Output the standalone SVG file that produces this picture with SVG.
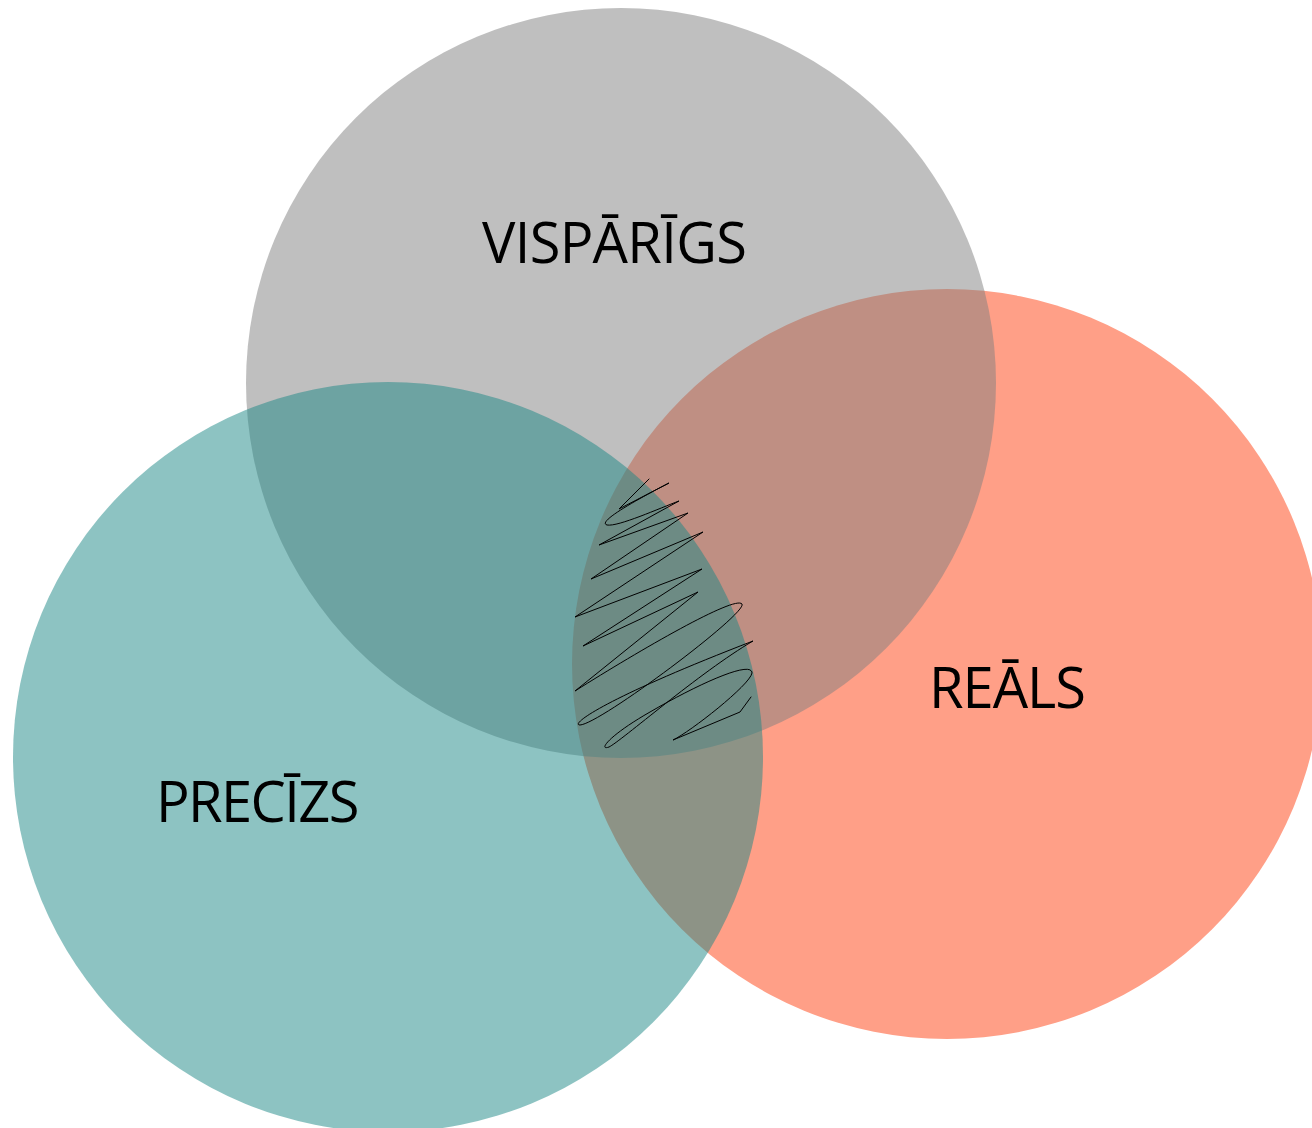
<svg xmlns="http://www.w3.org/2000/svg" width="1312" height="1128" viewBox="0 0 1312 1128">
<style>
.lbl{font-family:"Open Sans","Noto Sans","Liberation Sans",sans-serif;font-size:56px;fill:#000;}
.scribble{fill:none;stroke:#000;stroke-width:1;stroke-linejoin:round;stroke-linecap:round;}
</style>
<rect width="1312" height="1128" fill="#fff"/>
<g id="node-reals">
<circle cx="947" cy="664" r="375" fill="#ff9f87"/>
</g>
<g id="node-visparigs">
<circle cx="621" cy="383" r="375" fill="#7f7f7f" fill-opacity="0.5"/>
</g>
<g id="node-precizs">
<circle cx="388" cy="757" r="375" fill="#1b8785" fill-opacity="0.5"/>
</g>
<g id="labels">
<text class="lbl" x="482" y="263" letter-spacing="-0.7">VISPĀRĪGS</text>
<text class="lbl" x="929" y="708" letter-spacing="-1">REĀLS</text>
<text class="lbl" x="156" y="822" letter-spacing="-1.6">PRECĪZS</text>
</g>
<g id="connectors">
<path class="scribble" d="M649,479 L619,509 L669,483 C640,498 596,522 607,525 C618,527 660,508 679,501 L599,545 L688,513 L591,579 L703,532 L575,617 L702,569 L583,646 L698,592 L575,691 C640,650 735,595 742,604 C748,613 600,724 580,725 C570,725 600,700 753,641 C700,672 620,742 609,747 C598,751 608,736 650,712 C700,683 752,660 752,673 C750,685 690,732 673,740 L740,712 L751,697"/>
</g>
</svg>
